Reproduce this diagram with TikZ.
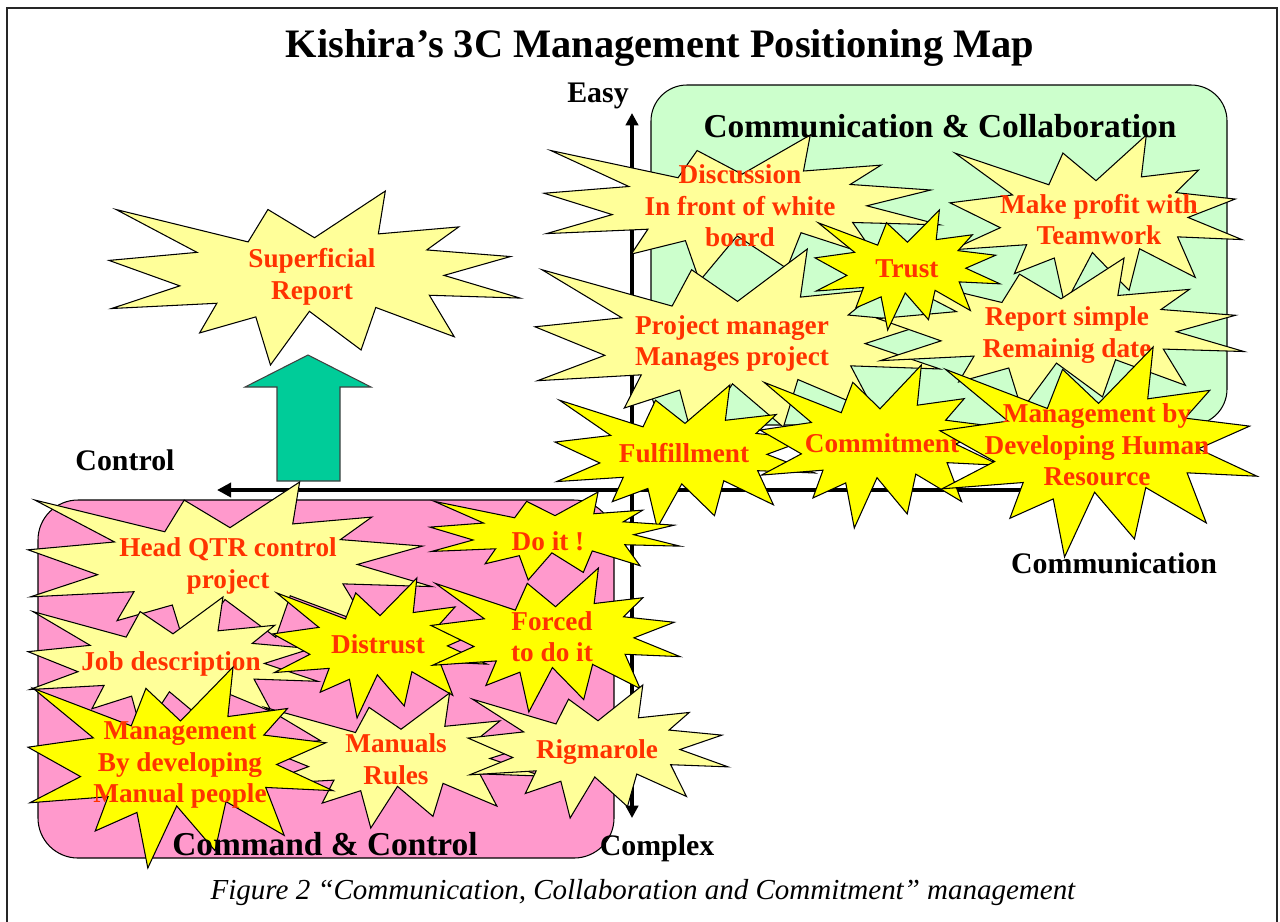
\documentclass[tikz,border=0pt]{standalone}
\usepackage{fontspec}
\setmainfont{Liberation Serif}
\usetikzlibrary{arrows.meta}

\definecolor{burstred}{RGB}{255,51,0}
\definecolor{paleyellow}{RGB}{255,255,153}
\definecolor{hotyellow}{RGB}{255,255,0}
\definecolor{mintgreen}{RGB}{204,255,204}
\definecolor{candypink}{RGB}{255,153,204}
\definecolor{tealarrow}{RGB}{0,204,153}

% explosion shape: #1 fill, #2 left, #3 top, #4 width, #5 height
\newcommand{\boom}[5]{%
  \filldraw[burst line, fill=#1, shift={(#2,#3)}, xscale=#4/216, yscale=#5/216]
    (108,58) -- (145.22,0) -- (141.55,53.25) -- (183.8,44.57) -- (167.02,73.15)
    -- (210.97,81.37) -- (176.07,104.75) -- (216,132.9) -- (168.37,129.42)
    -- (181.45,180.95) -- (140.2,144.57) -- (132.47,197.37) -- (105.32,149.35)
    -- (84.85,216) -- (77.15,156.27) -- (47.62,176.17) -- (56.67,139.37)
    -- (1.35,145.87) -- (37.22,117.75) -- (0,86.15) -- (46.27,76.17)
    -- (3.7,22.95) -- (73.12,63.2) -- (83.52,22.95) -- cycle;}

\begin{document}
\begin{tikzpicture}[x=0.02cm, y=-0.02cm,
    burst line/.style={draw=black, line width=0.6pt},
    burst text/.style={font=\fontsize{15.5}{18}\selectfont\bfseries, text=burstred, align=center, inner sep=0pt},
    box label/.style={font=\fontsize{19}{22}\selectfont\bfseries, inner sep=0pt, anchor=base},
    axis label/.style={font=\fontsize{17}{20}\selectfont\bfseries, inner sep=0pt, anchor=base},
    axis line/.style={line width=2.4pt}]

  \useasboundingbox (0,0) rectangle (1280,921);
  \fill[white] (0,0) rectangle (1280,921);
  \draw[line width=1pt, black!85] (7,930) -- (7,8) -- (1277,8) -- (1277,930);

  \node[font=\fontsize{23}{26}\selectfont\bfseries, anchor=base, inner sep=0pt] (title) at (660,57) {Kishira’s 3C Management Positioning Map};

  \filldraw[fill=mintgreen, draw=black, line width=0.6pt, rounded corners=0.72cm] (651,85) rectangle (1227,425);
  \filldraw[fill=candypink, draw=black, line width=0.6pt, rounded corners=0.8cm] (38,500) rectangle (614,858);

  \filldraw[fill=tealarrow, draw=black!75, line width=0.6pt]
    (277,481) -- (277,387) -- (245,387) -- (308,355) -- (371,387) -- (340,387) -- (340,481) -- cycle;

  \coordinate (easy) at (632,113);
  \coordinate (complex) at (632,818);
  \coordinate (ctrl) at (217,490);
  \coordinate (commend) at (1100,490);
  \draw[axis line, {Triangle[length=7pt,width=7pt]}-{Triangle[length=7pt,width=7pt]}] (complex) -- (easy);
  \draw[axis line, line width=2.8pt, -{Triangle[length=8pt,width=8pt]}] (commend) -- (ctrl);

  \boom{paleyellow}{109}{191}{411}{174}
  \node[burst text] (sup) at (312,276.5) {Superficial\\Report};

  % communication side
  \boom{paleyellow}{544}{135}{396}{146}
  \node[burst text] (disc) at (740,206) {Discussion\\In front of white\\board};
  \boom{paleyellow}{950}{135}{292}{170}
  \node[burst text] (profit) at (1099,219.5) {Make profit with\\Teamwork};
  \boom{paleyellow}{535}{249}{405}{195}
  \node[burst text] (pm) at (732,343.5) {Project manager\\Manages project};
  \boom{paleyellow}{878}{258}{366}{152}
  \node[burst text] (report) at (1067,335) {Report simple\\Remainig date};
  \boom{hotyellow}{815}{210}{185}{120}
  \node[burst text, anchor=base] (trust) at (907,277) {Trust};
  \boom{hotyellow}{555}{385}{260}{143}
  \node[burst text, anchor=base] (fulfil) at (684,462) {Fulfillment};
  \boom{hotyellow}{760}{365}{240}{163}
  \node[burst text, anchor=base] (commit) at (882,452) {Commitment};
  \boom{hotyellow}{940}{347}{317}{210}
  \node[burst text] (mhr) at (1097,445) {Management by\\Developing Human\\Resource};

  % control side
  \boom{paleyellow}{28}{482}{404}{170}
  \node[burst text] (hq) at (228,566) {Head QTR control\\project};
  \boom{paleyellow}{28}{597}{290}{137}
  \node[burst text, anchor=base] (job) at (171,670) {Job description};
  \boom{hotyellow}{430}{492}{250}{88}
  \node[burst text, anchor=base] (doit) at (548,550) {Do it !};
  \boom{hotyellow}{273}{578}{214}{140}
  \node[burst text, anchor=base] (distrust) at (378,653) {Distrust};
  \boom{hotyellow}{431}{568}{249}{144}
  \node[burst text] (forced) at (552,636.5) {Forced\\to do it};
  \boom{paleyellow}{260}{693}{282}{135}
  \node[burst text] (manuals) at (396,759) {Manuals\\Rules};
  \boom{hotyellow}{28}{667}{305}{201}
  \node[burst text] (mmp) at (180,765) {Management\\By developing\\Manual people};
  \boom{paleyellow}{468}{685}{260}{133}
  \node[burst text, anchor=base] (rig) at (597,758) {Rigmarole};

  \node[box label] (cc) at (940,137) {Communication \& Collaboration};
  \node[box label] (cmd) at (325,855) {Command \& Control};

  \node[axis label] (easylbl) at (598,102) {Easy};
  \node[axis label] (complexlbl) at (657,855) {Complex};
  \node[axis label] (ctrllbl) at (125,470) {Control};
  \node[axis label] (commlbl) at (1114,573) {Communication};

  \node[font=\fontsize{16.5}{19}\selectfont\itshape, anchor=base, inner sep=0pt] (caption) at (643,899) {Figure 2 “Communication, Collaboration and Commitment” management};
\end{tikzpicture}
\end{document}
